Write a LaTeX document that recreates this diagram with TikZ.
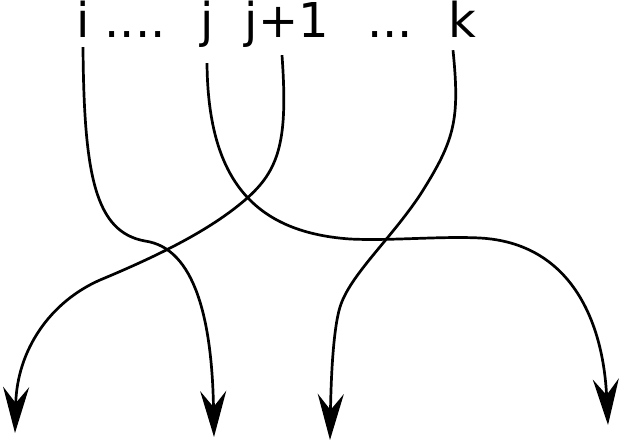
\documentclass[tikz,border=0pt]{standalone}
\usepackage{fontspec}
\setmainfont{DejaVu Sans}
\usetikzlibrary{arrows.meta}

\tikzset{
  lbl/.style={inner sep=0pt, anchor=base, font=\fontsize{48}{58}\selectfont},
  strand/.style={line width=2.7pt, -{Stealth[length=46pt,width=26pt,inset=16pt]}},
}

\begin{document}
\begin{tikzpicture}[x=1pt,y=-1pt]
\useasboundingbox (0,0) rectangle (621,442);

% Labels
\node[lbl] (li) at (83,37) {i};
\node[lbl] (ldots) at (135,37) {....};
\node[lbl] (lj) at (207,37) {j};
\node[lbl] (ljp) at (287,37) {j+1};
\node[lbl] (lmore) at (390,37) {...};
\node[lbl] (lk) at (462,37) {k};

% Free ends
\coordinate (ei) at (214,437);
\coordinate (ej) at (608,425);
\coordinate (ejp) at (15,433);
\coordinate (ek) at (330,440);

% Strands
\draw[strand] ([yshift=-10pt]li.south) .. controls (84,175) and (95,232) .. (145,241)
  .. controls (195,248) and (212,320) .. (ei);
\draw[strand] ([yshift=-16pt]lj.south) .. controls (208,175) and (250,232) .. (350,239)
  .. controls (390,241) and (440,236) .. (480,238)
  .. controls (570,243) and (603,320) .. (ej);
\draw[strand] ([xshift=-5pt,yshift=-8pt]ljp.south) .. controls (288,140) and (280,170) .. (245,200)
  .. controls (210,230) and (160,255) .. (100,280)
  .. controls (50,302) and (17,350) .. (ejp);
\draw[strand] ([xshift=-9pt,yshift=-13pt]lk.south) .. controls (460,120) and (455,140) .. (420,195)
  .. controls (390,240) and (350,275) .. (340,307)
  .. controls (333,330) and (331,380) .. (ek);

\end{tikzpicture}
\end{document}
